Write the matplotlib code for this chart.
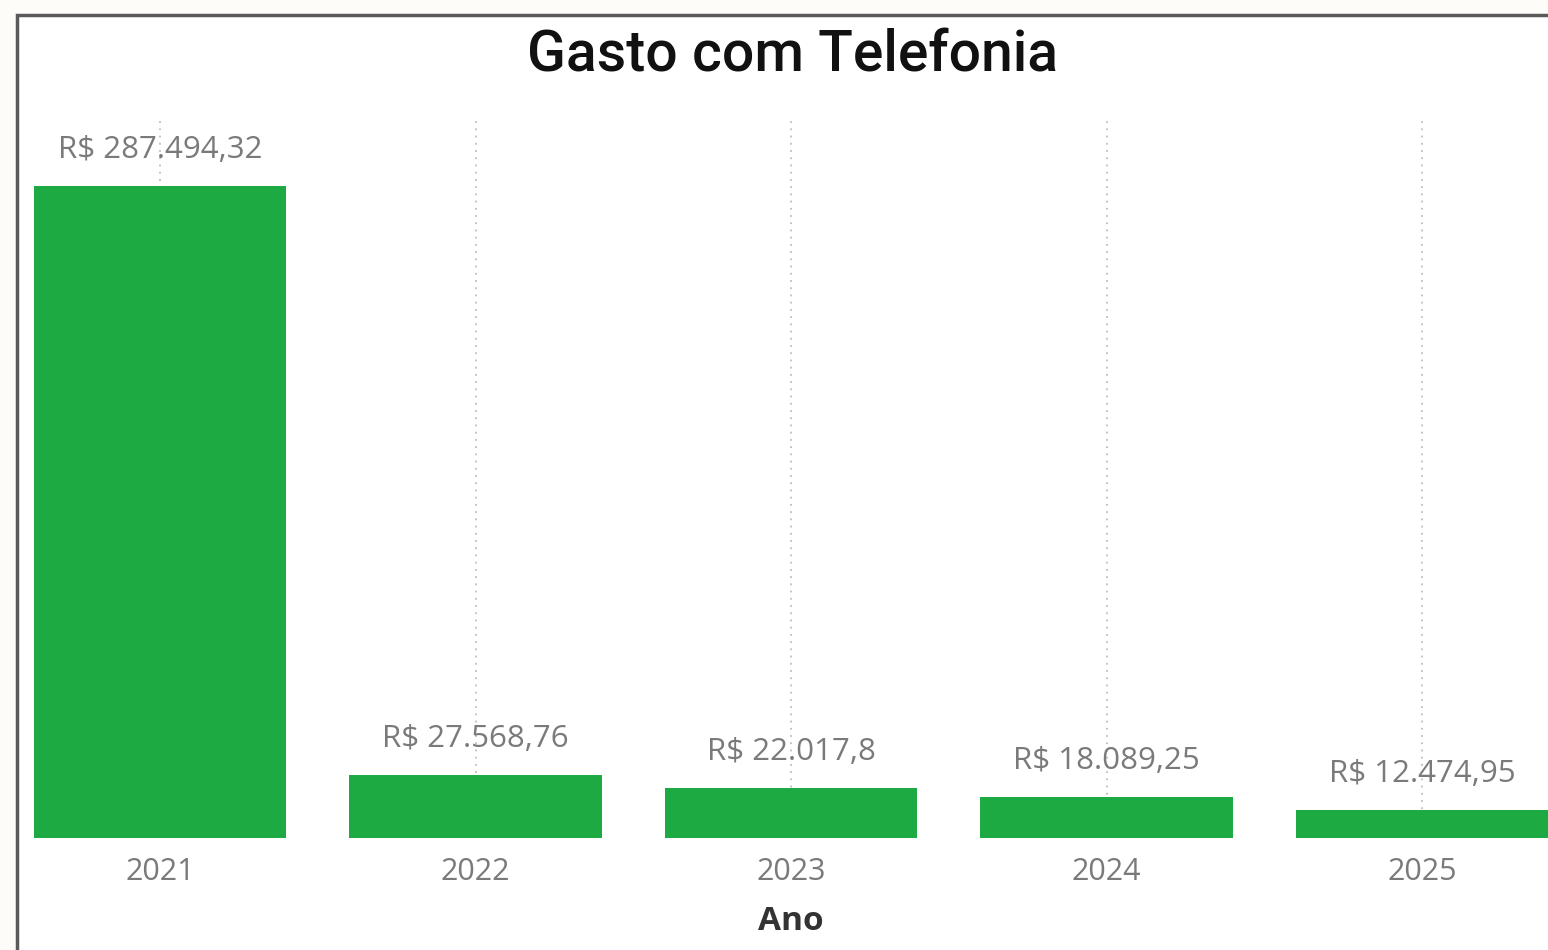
import matplotlib
matplotlib.use("Agg")
import matplotlib.pyplot as plt
from matplotlib.patches import Rectangle

years = ["2021", "2022", "2023", "2024", "2025"]
values = [287494.32, 27568.76, 22017.8, 18089.25, 12474.95]
labels = ["R$ 287.494,32", "R$ 27.568,76", "R$ 22.017,8", "R$ 18.089,25", "R$ 12.474,95"]

W, H = 1548, 950
fig = plt.figure(figsize=(W / 100, H / 100), dpi=100, facecolor="#FDFCF8")

# visual frame (cropped at right and bottom)
fig.patches.append(Rectangle((17 / W, -0.1), 2.0, (H - 15) / H + 0.1,
                             transform=fig.transFigure, facecolor="white",
                             edgecolor="#5a5a5a", linewidth=2.5, zorder=-5))

left = 17 / W
bottom = (H - 838) / H
top = (H - 118) / H
ax = fig.add_axes([left, bottom, 1 - left, top - bottom])
ax.set_facecolor("none")
ax.set_zorder(2)

x = list(range(len(years)))
ax.bar(x, values, width=0.8, color="#1DAA42", zorder=2)
ax.set_xlim((17 - 160) / 315.5, (W - 160) / 315.5)
ax.set_ylim(0, 317500)

for xi in x:
    ax.axvline(xi, color="#bdbdbd", linestyle=(0, (1, 3)), linewidth=1.3, zorder=1)

for xi, v, lab in zip(x, values, labels):
    ax.annotate(lab, (xi, v), xytext=(0, 36), textcoords="offset pixels",
                ha="center", va="center", fontsize=22.5, color="#7a7a7a",
                family="Open Sans")

ax.set_xticks(x)
ax.set_xticklabels(years, fontsize=22, color="#7a7a7a", family="Open Sans")
ax.tick_params(axis="x", length=0, pad=14)
ax.set_yticks([])
for s in ax.spines.values():
    s.set_visible(False)

fig.text(791 / W, 1 - 922 / H, "Ano", ha="center", va="center", fontsize=24,
         color="#333333", family="Open Sans", weight="bold")
fig.text(793 / W, 1 - 55 / H, "Gasto com Telefonia", ha="center", va="center",
         fontsize=41, color="#111111", family="Roboto", weight="medium")

fig.savefig("out.png", dpi=100, facecolor=fig.get_facecolor())
